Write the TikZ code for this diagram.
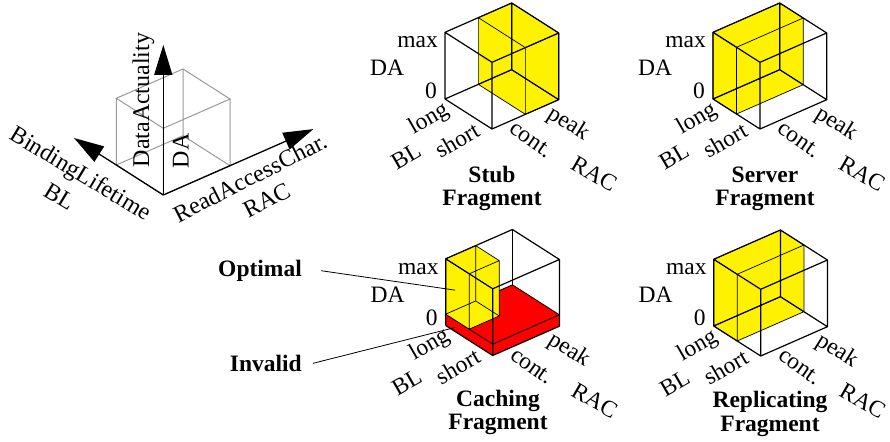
\documentclass[tikz,border=0pt]{standalone}
\usepackage{fontspec}
\setmainfont{LiberationSerif-Regular.ttf}[BoldFont=LiberationSerif-Bold.ttf]
\usetikzlibrary{arrows.meta,calc}
\tikzset{>={Triangle[length=30pt,width=18pt]}}
\tikzset{
  cubeframe/.style={x={(66.7pt,29.3pt)},y={(-47pt,30pt)},z={(0pt,66.7pt)}},
  cubeedge/.style={line width=1.2pt,line join=round},
  boxedge/.style={line width=0.7pt,line join=round},
  guide/.style={black!40,line width=1pt},
  axisline/.style={line width=1.3pt,->},
  lbl/.style={font=\fontsize{23.5}{25}\selectfont,inner sep=0pt},
  biglbl/.style={font=\fontsize{24}{26}\selectfont,inner sep=0pt},
  fragtitle/.style={font=\fontsize{23.5}{23.3}\selectfont\bfseries,align=center,inner sep=0pt},
  callout/.style={line width=0.8pt},
}

% all twelve edges of the unit cube
\newcommand\cubeedges[1][cubeedge]{%
  \draw[#1] (0,0,0) -- (1,0,0) -- (1,1,0) -- (0,1,0) -- cycle
    (0,0,1) -- (1,0,1) -- (1,1,1) -- (0,1,1) -- cycle
    (0,0,0) -- (0,0,1) (1,0,0) -- (1,0,1) (1,1,0) -- (1,1,1) (0,1,0) -- (0,1,1);}
% only the edges in front
\newcommand\cubefront{%
  \draw[cubeedge] (0,1,0) -- (0,0,0) -- (1,0,0)
    (0,1,1) -- (0,0,1) -- (1,0,1) -- (1,1,1) -- cycle
    (0,0,0) -- (0,0,1) (1,0,0) -- (1,0,1) (0,1,0) -- (0,1,1);}
% box: RAC from #1 to #2, BL from #3 to #4, DA from #5 to #6, colour #7
\newcommand\fillbox[7]{%
  \fill[#7] (#1,#4,#5) -- (#1,#3,#5) -- (#2,#3,#5) -- (#2,#3,#6) -- (#2,#4,#6) -- (#1,#4,#6) -- cycle;
  \draw[boxedge] (#1,#3,#5) -- (#2,#3,#5) -- (#2,#4,#5) -- (#1,#4,#5) -- cycle
    (#1,#3,#6) -- (#2,#3,#6) -- (#2,#4,#6) -- (#1,#4,#6) -- cycle
    (#1,#3,#5) -- (#1,#3,#6) (#2,#3,#5) -- (#2,#3,#6)
    (#2,#4,#5) -- (#2,#4,#6) (#1,#4,#5) -- (#1,#4,#6);}
% tick labels round one cube
\newcommand\ticklabels[1]{%
  \node[lbl,anchor=base east] (#1-max) at (-54pt,81pt) {max};
  \node[lbl,anchor=base] (#1-da) at (-105pt,53pt) {DA};
  \node[lbl,anchor=base east] (#1-zero) at (-55pt,30pt) {0};
  \node[lbl,rotate=30] (#1-long) at (-63pt,10pt) {long};
  \node[lbl,rotate=30] (#1-short) at (-35pt,-11pt) {short};
  \node[lbl,rotate=30] (#1-bl) at (-86pt,-27pt) {BL};
  \node[lbl,rotate=-35] (#1-cont) at (39pt,-11pt) {cont.};
  \node[lbl,rotate=-32] (#1-peak) at (76pt,5pt) {peak};
  \node[lbl,rotate=-30] (#1-rac) at (102pt,-45pt) {RAC};}

\begin{document}
\begin{tikzpicture}[x=1pt,y=1pt]
  \useasboundingbox (0,0) rectangle (890,441);

  % Axes with the guide cube.
  \begin{scope}[shift={(163.3pt,246pt)},cubeframe]
    \cubeedges[guide]
    \coordinate (o) at (0,0,0);
    \coordinate (datip) at (0,0,2.25);
    \coordinate (bltip) at (0,1.9,0);
    \coordinate (ractip) at (2.25,0,0);
    \draw[axisline] (o) -- (datip);
    \draw[axisline] (o) -- (bltip);
    \draw[axisline] (o) -- (ractip);
  \end{scope}
  \node[biglbl,rotate=90] (da-long) at (143.3,341) {DataActuality};
  \node[biglbl,rotate=90] (da-short) at (180.8,290.3) {DA};
  \node[biglbl,rotate=-31] (bl-long) at (80,266) {BindingLifetime};
  \node[biglbl,rotate=-31] (bl-short) at (60,244.3) {BL};
  \node[biglbl,rotate=27] (rac-long) at (250,263.5) {ReadAccessChar.};
  \node[biglbl,rotate=27] (rac-short) at (266.7,241) {RAC};

  % Stub fragment.
  \begin{scope}[shift={(492pt,312pt)},cubeframe]
    \fillbox{0.5}{1}{0}{1}{0}{1}{yellow}
    \cubeedges
    \ticklabels{stub}
  \end{scope}
  \node[fragtitle] (stub) at (492,252.5) {Stub\\Fragment};

  % Server fragment.
  \begin{scope}[shift={(760pt,312pt)},cubeframe]
    \fillbox{0}{1}{0.5}{1}{0}{1}{yellow}
    \cubeedges
    \ticklabels{server}
  \end{scope}
  \node[fragtitle] (server) at (765,252.5) {Server\\Fragment};

  % Caching fragment.
  \begin{scope}[shift={(492.7pt,85.5pt)},cubeframe]
    \fill[red] (0,1,0) -- (0,0,0) -- (1,0,0) -- (1,0,0.17) -- (1,1,0.17) -- (0,1,0.17) -- cycle;
    \draw[boxedge,line width=0.9pt] (0,0,0.17) -- (1,0,0.17) -- (1,1,0.17) -- (0,1,0.17) -- cycle;
    \draw[cubeedge] (1,1,0.17) -- (1,1,1);
    \fillbox{0}{0.45}{0.5}{1}{0.17}{1}{yellow}
    \cubefront
    \coordinate (optend) at (0,0.8,0.62);
    \coordinate (invend) at (0,0.8,0.06);
    \ticklabels{caching}
  \end{scope}
  \node[fragtitle] (caching) at (498,28.5) {Caching\\Fragment};

  % Replicating fragment.
  \begin{scope}[shift={(760.7pt,85pt)},cubeframe]
    \fillbox{0}{1}{0.5}{1}{0}{1}{yellow}
    \cubeedges
    \ticklabels{replicating}
  \end{scope}
  \node[fragtitle] (replicating) at (770,27) {Replicating\\Fragment};

  % Callouts.
  \node[fragtitle,anchor=east] (optimal) at (302,170.3) {Optimal};
  \node[fragtitle,anchor=east] (invalid) at (302,77.7) {Invalid};
  \draw[callout] ([xshift=19pt]optimal.east) -- (optend);
  \draw[callout] ([xshift=11pt]invalid.east) -- (invend);
\end{tikzpicture}
\end{document}
